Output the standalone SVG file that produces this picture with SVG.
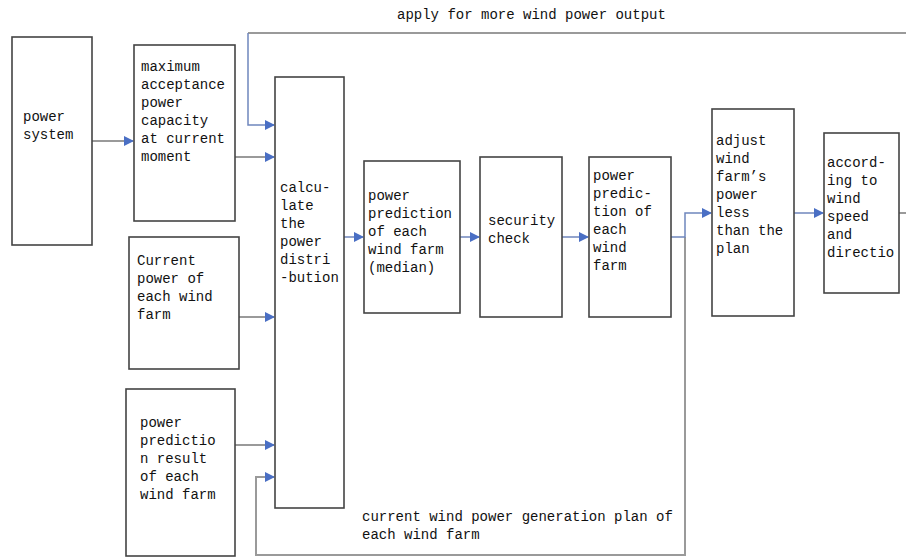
<svg xmlns="http://www.w3.org/2000/svg" width="906" height="559" viewBox="0 0 906 559">
<style>
.box{fill:#fff;stroke:#444;stroke-width:1.6}
.t{font-family:"Liberation Mono","DejaVu Sans Mono",monospace;font-size:14px;fill:#111}
.c{fill:none;stroke:#9a9a9a;stroke-width:2}
.cb{fill:none;stroke:#6f86bd;stroke-width:1.5}
</style>
<defs>
<marker id="a" markerWidth="10" markerHeight="10" refX="9" refY="5" orient="auto" markerUnits="userSpaceOnUse">
<path d="M0,0 L10,5 L0,10 Z" fill="#4a6fc4"/>
</marker>
</defs>
<rect width="906" height="559" fill="#fff"/>
<g id="connectors">
<path class="c" d="M92,141 H133" marker-end="url(#a)"/>
<path class="c" d="M235,157 H274" marker-end="url(#a)"/>
<path class="c" d="M906,33 H248"/>
<path class="cb" d="M248,33 V125 H274" marker-end="url(#a)"/>
<path class="c" d="M239,317 H274" marker-end="url(#a)"/>
<path class="c" d="M235,445 H274" marker-end="url(#a)"/>
<path class="c" d="M685,237 V555 H256 V477 H274" marker-end="url(#a)"/>
<path class="cb" d="M344,237 H363" marker-end="url(#a)"/>
<path class="cb" d="M460,237 H479" marker-end="url(#a)"/>
<path class="cb" d="M562,237 H588" marker-end="url(#a)"/>
<path class="cb" d="M671,237 H685 V213 H711" marker-end="url(#a)"/>
<path class="cb" d="M794,213 H823" marker-end="url(#a)"/>
<path class="c" d="M899,213 H906"/>
<text class="t" x="397" y="19">apply for more wind power output</text>
<text class="t" x="362" y="521">current wind power generation plan of</text>
<text class="t" x="362" y="539">each wind farm</text>
</g>
<g id="n1">
<rect class="box" x="12" y="37" width="80" height="208"/>
<text class="t" x="23" y="121">power</text>
<text class="t" x="23" y="139">system</text>
</g>
<g id="n2">
<rect class="box" x="134" y="45" width="101" height="176"/>
<text class="t" x="141" y="71">maximum</text>
<text class="t" x="141" y="89">acceptance</text>
<text class="t" x="141" y="107">power</text>
<text class="t" x="141" y="125">capacity</text>
<text class="t" x="141" y="143">at current</text>
<text class="t" x="141" y="161">moment</text>
</g>
<g id="n3">
<rect class="box" x="129" y="237" width="110" height="132"/>
<text class="t" x="137" y="265">Current</text>
<text class="t" x="137" y="283">power of</text>
<text class="t" x="137" y="301">each wind</text>
<text class="t" x="137" y="319">farm</text>
</g>
<g id="n4">
<rect class="box" x="126" y="389" width="109" height="167"/>
<text class="t" x="140" y="427">power</text>
<text class="t" x="140" y="445">predictio</text>
<text class="t" x="140" y="463">n result</text>
<text class="t" x="140" y="481">of each</text>
<text class="t" x="140" y="499">wind farm</text>
</g>
<g id="n5">
<rect class="box" x="275" y="77" width="69" height="431"/>
<text class="t" x="280" y="192">calcu-</text>
<text class="t" x="280" y="210">late</text>
<text class="t" x="280" y="228">the</text>
<text class="t" x="280" y="246">power</text>
<text class="t" x="280" y="264">distri</text>
<text class="t" x="280" y="282">-bution</text>
</g>
<g id="n6">
<rect class="box" x="364" y="161" width="96" height="152"/>
<text class="t" x="368" y="200">power</text>
<text class="t" x="368" y="218">prediction</text>
<text class="t" x="368" y="236">of each</text>
<text class="t" x="368" y="254">wind farm</text>
<text class="t" x="368" y="272">(median)</text>
</g>
<g id="n7">
<rect class="box" x="480" y="157" width="82" height="160"/>
<text class="t" x="488" y="225">security</text>
<text class="t" x="488" y="243">check</text>
</g>
<g id="n8">
<rect class="box" x="589" y="157" width="82" height="160"/>
<text class="t" x="593" y="180">power</text>
<text class="t" x="593" y="198">predic-</text>
<text class="t" x="593" y="216">tion of</text>
<text class="t" x="593" y="234">each</text>
<text class="t" x="593" y="252">wind</text>
<text class="t" x="593" y="270">farm</text>
</g>
<g id="n9">
<rect class="box" x="712" y="109" width="82" height="207"/>
<text class="t" x="716" y="145">adjust</text>
<text class="t" x="716" y="163">wind</text>
<text class="t" x="716" y="181">farm’s</text>
<text class="t" x="716" y="199">power</text>
<text class="t" x="716" y="217">less</text>
<text class="t" x="716" y="235">than the</text>
<text class="t" x="716" y="253">plan</text>
</g>
<g id="n10">
<rect class="box" x="824" y="133" width="75" height="160"/>
<text class="t" x="827" y="167">accord-</text>
<text class="t" x="827" y="185">ing to</text>
<text class="t" x="827" y="203">wind</text>
<text class="t" x="827" y="221">speed</text>
<text class="t" x="827" y="239">and</text>
<text class="t" x="827" y="257">directio</text>
</g>
</svg>
